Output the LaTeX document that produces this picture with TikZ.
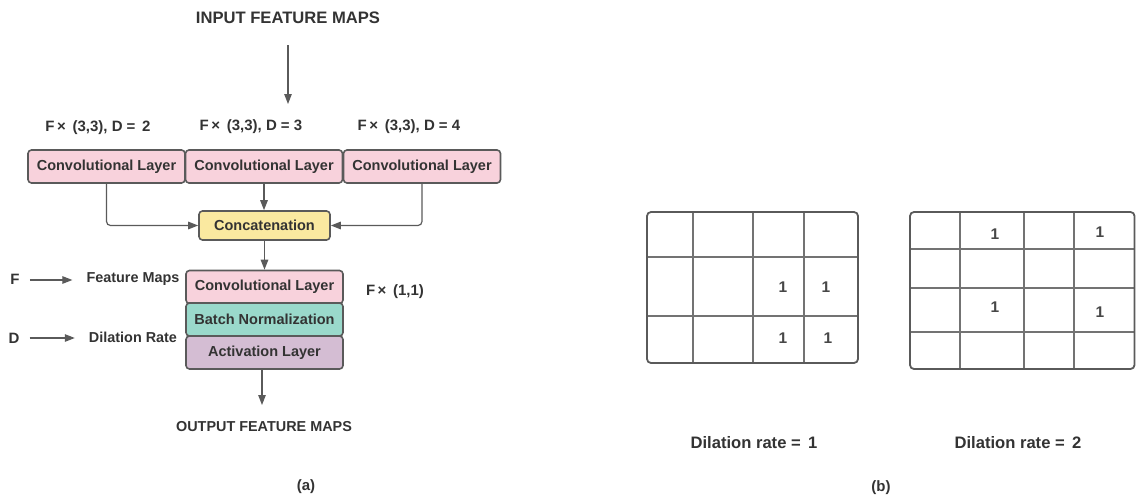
\documentclass[tikz,border=0pt]{standalone}
\usepackage{fontspec}
\setmainfont{Liberation Sans}
\usetikzlibrary{arrows.meta}
\definecolor{ink}{HTML}{333333}
\definecolor{edge}{HTML}{5A5A5A}
\definecolor{pinkfill}{HTML}{F8D2DC}
\definecolor{yellowfill}{HTML}{FAE9A0}
\definecolor{tealfill}{HTML}{9AD9CB}
\definecolor{purplefill}{HTML}{D4BDD3}
\tikzset{
  txt/.style={font=\fontsize{15}{17}\selectfont\bfseries, text=ink, inner sep=0pt},
  bigtxt/.style={font=\fontsize{16.6}{19}\selectfont\bfseries, text=ink, inner sep=0pt},
  smalltxt/.style={font=\fontsize{14.4}{17}\selectfont\bfseries, text=ink, inner sep=0pt},
  numtxt/.style={font=\fontsize{15.5}{17}\selectfont\bfseries, text=ink!90, inner sep=0pt},
  layerbox/.style={draw=edge, line width=1.6pt, rounded corners=3.5pt,
    minimum width=157pt, minimum height=33pt, inner sep=0pt,
    font=\fontsize{14.5}{17}\selectfont\bfseries, text=ink},
  conn/.style={draw=edge, line width=1.2pt, -{Triangle[length=10pt,width=7.5pt]}},
  gridouter/.style={draw=edge, line width=1.8pt, rounded corners=4pt},
  gridinner/.style={draw=edge!85, line width=1.1pt},
}
\begin{document}
\begin{tikzpicture}[x=1pt,y=-1pt]
\useasboundingbox (0,0) rectangle (1136,501);

% ---------------- (a) dilated convolution block ----------------
\node[bigtxt] (in) at (288,18) {INPUT FEATURE MAPS};
\coordinate (inStart) at (288,45);
\coordinate (inEnd) at (288,104);

\node[txt] (l1) at (98,128) {F\,× \,(3,3), D = \,2};
\node[txt] (l2) at (251,127) {F\,× \,(3,3), D = 3};
\node[txt] (l3) at (409,127) {F\,× \,(3,3), D = 4};

\node[layerbox, fill=pinkfill] (c1) at (106.5,166.5) {Convolutional Layer};
\node[layerbox, fill=pinkfill] (c2) at (264,166.5) {Convolutional Layer};
\node[layerbox, fill=pinkfill] (c3) at (422,166.5) {Convolutional Layer};

\node[draw=edge, line width=1.6pt, rounded corners=3.5pt, fill=yellowfill,
      minimum width=131pt, minimum height=29pt, inner sep=0pt,
      font=\fontsize{14.5}{17}\selectfont\bfseries, text=ink] (cat) at (264.5,225.5) {Concatenation};

\node[layerbox, fill=pinkfill]   (c4) at (264.5,287) {Convolutional Layer};
\node[layerbox, fill=tealfill]   (bn) at (264.5,319.5) {Batch Normalization};
\node[layerbox, fill=purplefill] (ac) at (264.5,352.5) {Activation Layer};

\node[smalltxt] (out) at (264,427) {OUTPUT FEATURE MAPS};
\coordinate (outEnd) at (262,405);
\node[txt] (k1) at (395,292) {F\,× \,(1,1)};

\draw[conn] (inStart) -- (inEnd);
\draw[conn] (c2.south) -- (cat.north -| c2.south);
\draw[conn, rounded corners=4pt] (c1.south) |- (cat.west);
\draw[conn, rounded corners=4pt] (c3.south) |- (cat.east);
\draw[conn] (cat.south) -- (c4.north);
\draw[conn] (ac.south -| outEnd) -- (outEnd);

% legend
\node[txt] (fL) at (15,279) {F};
\node[smalltxt] (fT) at (133,279) {Feature Maps};
\node[txt] (dL) at (14,338) {D};
\node[smalltxt] (dT) at (133,337) {Dilation Rate};
\draw[conn] ([xshift=10pt]fL.east |- 0,280) -- ([xshift=-14pt]fT.west |- 0,280);
\draw[conn] ([xshift=10pt]dL.east |- 0,338) -- ([xshift=-14pt]dT.west |- 0,338);

\node[txt] (capA) at (306,487) {(a)};

% ---------------- (b) dilation rate grids ----------------
% rate 1
\draw[gridinner] (693,212) -- (693,363) (753,212) -- (753,363) (804,212) -- (804,363);
\draw[gridinner] (647,257) -- (858,257) (647,316) -- (858,316);
\draw[gridouter] (647,212) rectangle (858,363);
\node[numtxt] (a1) at (783,287) {1};
\node[numtxt] (a2) at (826,287) {1};
\node[numtxt] (a3) at (783,338) {1};
\node[numtxt] (a4) at (828,338) {1};

% rate 2
\draw[gridinner] (960,212) -- (960,369) (1024,212) -- (1024,369) (1074,212) -- (1074,369);
\draw[gridinner] (910,249) -- (1135,249) (910,288) -- (1135,288) (910,332) -- (1135,332);
\draw[gridouter] (910,212) rectangle (1134.5,369);
\node[numtxt] (b1) at (995,234) {1};
\node[numtxt] (b2) at (1100,232) {1};
\node[numtxt] (b3) at (995,307) {1};
\node[numtxt] (b4) at (1100,312) {1};

\node[bigtxt] (r1) at (754,443) {Dilation rate = \,1};
\node[bigtxt] (r2) at (1018,443) {Dilation rate = \,2};
\node[txt] (capB) at (881,488) {(b)};
\end{tikzpicture}
\end{document}
